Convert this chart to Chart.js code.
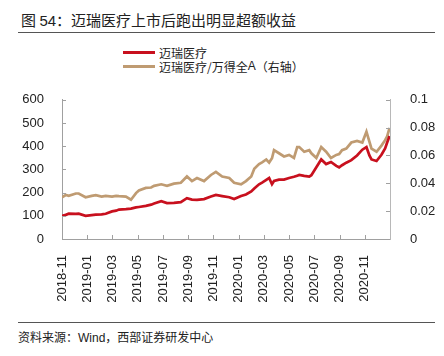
<!DOCTYPE html>
<html>
<head>
<meta charset="utf-8">
<script src="https://cdn.jsdelivr.net/npm/chart.js@4/dist/chart.umd.min.js"></script>
<style>
  html, body { margin: 0; padding: 0; background: #fff; }
  body { width: 444px; height: 356px; position: relative; overflow: hidden; font-family: "Noto Sans CJK SC", "Liberation Sans", sans-serif; }
  #title { position: absolute; left: 21px; top: 9px; font-size: 15px; color: #222; white-space: nowrap; letter-spacing: 0px; }
  #title .num { font-family: "Liberation Sans", Arial, sans-serif; }
  #rule1 { position: absolute; left: 18px; width: 417px; top: 32px; height: 0; border-top: 1.5px solid #555; }
  #rule2 { position: absolute; left: 18px; width: 417px; top: 322px; height: 0; border-top: 1.5px solid #555; }
  #source { position: absolute; left: 18px; top: 328px; font-size: 12px; color: #222; white-space: nowrap; }
  #source .lat { font-family: "Liberation Sans", Arial, sans-serif; }
  #legend { position: absolute; left: 123px; top: 45px; font-size: 12px; color: #222; }
  .lg { height: 14px; display: flex; align-items: center; white-space: nowrap; }
  .lg i { display: inline-block; width: 32px; height: 3px; margin-right: 4px; }
  .lg .lat { font-family: "Liberation Sans", Arial, sans-serif; }
  #wrap { position: absolute; left: 0; top: 80px; width: 444px; height: 229px; }
</style>
</head>
<body>
<div id="title">图 <span class="num">54</span>：迈瑞医疗上市后跑出明显超额收益</div>
<div id="rule1"></div>
<div id="legend">
  <div class="lg"><i style="background:#C8101E"></i>迈瑞医疗</div>
  <div class="lg"><i style="background:#BF9B72"></i>迈瑞医疗/万得全<span class="lat">A</span>（右轴）</div>
</div>
<div id="wrap"><canvas id="c" width="444" height="229"></canvas></div>
<div id="rule2"></div>
<div id="source">资料来源：<span class="lat">Wind</span>，西部证券研发中心</div>
<script>
// ---- data ----
const dates = [
  "2018-11-01","2018-11-10","2018-11-17","2018-12-04","2018-12-11","2018-12-28",
  "2019-01-12","2019-01-22","2019-02-05","2019-02-14","2019-02-28","2019-03-10",
  "2019-03-17","2019-04-03","2019-04-15","2019-04-27","2019-05-04","2019-05-21",
  "2019-06-03","2019-06-10","2019-06-27","2019-07-11","2019-07-28","2019-08-14",
  "2019-08-29","2019-09-10","2019-09-22","2019-10-09","2019-10-26","2019-11-07",
  "2019-11-22","2019-12-09","2019-12-21","2020-01-07","2020-01-19","2020-02-01",
  "2020-02-08","2020-02-19","2020-02-26","2020-03-07","2020-03-14","2020-03-21",
  "2020-03-26","2020-04-07","2020-04-19","2020-05-01","2020-05-13","2020-05-21",
  "2020-05-26","2020-06-07","2020-06-19","2020-06-24","2020-07-06","2020-07-18",
  "2020-07-30","2020-08-11","2020-08-24","2020-08-31","2020-09-07","2020-09-17",
  "2020-09-29","2020-10-13","2020-10-26","2020-11-05","2020-11-12","2020-11-17",
  "2020-11-29","2020-12-11","2020-12-20","2020-12-25","2020-12-31"
];
const mindray = [
  100,104,109,108,109,100,
  103,105,106,109,119,122,
  127,129,131,136,138,143,
  148,153,163,155,156,159,
  176,170,169,172,183,190,
  185,180,172,185,192,205,
  218,236,243,255,263,236,
  250,256,256,263,268,273,
  276,272,269,275,309,343,
  323,332,315,309,318,329,
  340,360,385,396,360,343,
  336,363,390,416,444
];
const relToWindA = [
  0.0300,0.0316,0.0310,0.0327,0.0327,0.0300,
  0.0310,0.0315,0.0305,0.0310,0.0305,0.0310,
  0.0308,0.0305,0.0282,0.0330,0.0349,0.0367,
  0.0370,0.0382,0.0393,0.0382,0.0398,0.0404,
  0.0449,0.0416,0.0438,0.0416,0.0460,0.0482,
  0.0449,0.0438,0.0404,0.0393,0.0416,0.0449,
  0.0504,0.0538,0.0550,0.0571,0.0549,0.0580,
  0.0638,0.0616,0.0593,0.0604,0.0582,0.0660,
  0.0660,0.0627,0.0638,0.0616,0.0582,0.0660,
  0.0627,0.0582,0.0604,0.0610,0.0638,0.0650,
  0.0693,0.0704,0.0693,0.0771,0.0700,0.0649,
  0.0627,0.0671,0.0710,0.0738,0.0798
];
const seriesNames = ["迈瑞医疗", "迈瑞医疗/万得全A（右轴）"];
const xTickLabels = ["2018-11","2019-01","2019-03","2019-05","2019-07","2019-09","2019-11",
                     "2020-01","2020-03","2020-05","2020-07","2020-09","2020-11"];
const leftTicks = [0,100,200,300,400,500,600];
const rightTicks = [0,0.02,0.04,0.06,0.08,0.1];

// ---- helpers ----
function monthIndex(s) {
  const [y, m, d] = s.split("-").map(Number);
  const dim = new Date(y, m, 0).getDate();
  return (y - 2018) * 12 + (m - 11) + (d - 1) / dim;
}
const xs = dates.map(monthIndex);
const redPts = xs.map((x, i) => ({ x, y: mindray[i] }));
const tanPts = xs.map((x, i) => ({ x, y: relToWindA[i] }));

const tickFont = { family: "'Liberation Sans', Arial, sans-serif", size: 13 };
const AXIS = "#a0a0a0";

const inwardTicks = {
  id: "inwardTicks",
  afterDraw(chart) {
    const ctx = chart.ctx, a = chart.chartArea;
    ctx.save();
    ctx.strokeStyle = AXIS;
    ctx.lineWidth = 1;
    ctx.beginPath();
    const xsOpt = chart.scales.x;
    xsOpt.ticks.forEach(t => {
      const px = Math.round(xsOpt.getPixelForValue(t.value)) + 0.5;
      ctx.moveTo(px, a.bottom); ctx.lineTo(px, a.bottom - 4);
    });
    const yl = chart.scales.y;
    yl.ticks.forEach(t => {
      const py = Math.round(yl.getPixelForValue(t.value)) + 0.5;
      ctx.moveTo(a.left, py); ctx.lineTo(a.left + 4, py);
    });
    const yr = chart.scales.y1;
    yr.ticks.forEach(t => {
      const py = Math.round(yr.getPixelForValue(t.value)) + 0.5;
      ctx.moveTo(a.right, py); ctx.lineTo(a.right - 4, py);
    });
    ctx.stroke();
    ctx.restore();
  }
};

new Chart(document.getElementById("c"), {
  type: "line",
  data: {
    datasets: [
      { label: seriesNames[0], data: redPts, yAxisID: "y", borderColor: "#C8101E",
        borderWidth: 2.7, pointRadius: 0, tension: 0, order: 0 },
      { label: seriesNames[1], data: tanPts, yAxisID: "y1", borderColor: "#BF9B72",
        borderWidth: 2.7, pointRadius: 0, tension: 0, order: 1 }
    ]
  },
  options: {
    responsive: false,
    animation: false,
    layout: { padding: { top: 9, left: 0, right: 0, bottom: 0 } },
    plugins: { legend: { display: false }, tooltip: { enabled: false } },
    scales: {
      x: {
        type: "linear", min: 0, max: 26,
        grid: { display: false },
        border: { display: true, color: AXIS, width: 1 },
        afterBuildTicks(scale) {
          scale.ticks = xTickLabels.map((_, i) => ({ value: i * 2 }));
        },
        afterFit(scale) { scale.height = 70; },
        ticks: {
          font: tickFont, color: "#222", padding: 8,
          minRotation: 90, maxRotation: 90, autoSkip: false,
          callback: (v) => xTickLabels[Math.round(v / 2)]
        }
      },
      y: {
        position: "left", min: 0, max: 600,
        grid: { display: false },
        border: { display: true, color: AXIS, width: 1 },
        afterBuildTicks(scale) { scale.ticks = leftTicks.map(v => ({ value: v })); },
        afterFit(scale) { scale.width = 62; },
        ticks: { font: tickFont, color: "#222", padding: 10 }
      },
      y1: {
        position: "right", min: 0, max: 0.1,
        grid: { display: false },
        border: { display: true, color: "#b8b8b8", width: 1 },
        afterBuildTicks(scale) { scale.ticks = rightTicks.map(v => ({ value: v })); },
        afterFit(scale) { scale.width = 54; },
        ticks: { font: tickFont, color: "#222", padding: 12,
          callback: (v) => String(parseFloat(Number(v).toFixed(2))) }
      }
    }
  },
  plugins: [inwardTicks]
});
</script>
</body>
</html>
